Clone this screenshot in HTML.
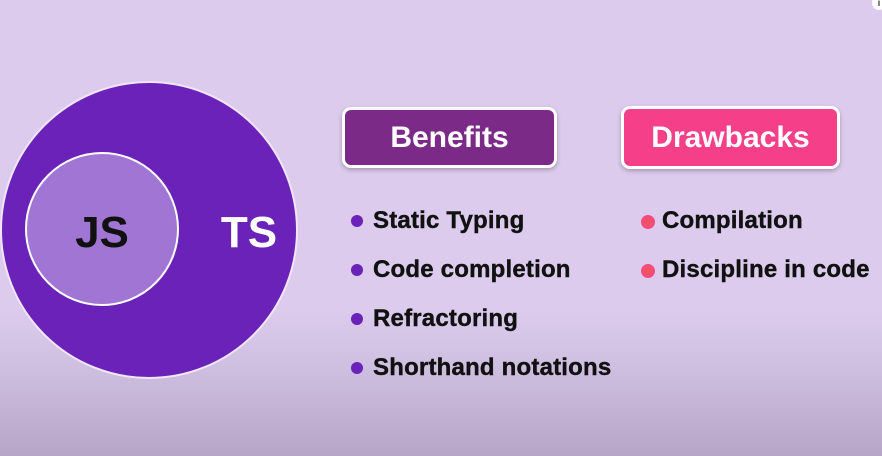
<!DOCTYPE html>
<html><head><meta charset="utf-8"><style>
body{margin:0;width:882px;height:456px;overflow:hidden;font-family:"Liberation Sans",sans-serif;font-weight:bold;
background:linear-gradient(to bottom,#dccbec 0%,#dccbec 68%,#cfbfe0 80%,#b7a5c6 100%);position:relative}
.a{position:absolute}
.box{position:absolute;border:3px solid #fff;border-radius:9px;color:#fff;font-size:30px;display:flex;align-items:center;justify-content:center;box-sizing:border-box;box-shadow:0 2px 4px rgba(0,0,0,.25)}
.it{position:absolute;font-size:24px;letter-spacing:0.2px;color:#111;line-height:28px;white-space:nowrap;-webkit-text-stroke:0.4px #111}
.dot{position:absolute;width:12px;height:12px;border-radius:50%}
</style></head><body>
<svg class="a" style="left:0;top:0" width="320" height="400">
<circle cx="149" cy="230" r="148" fill="#6b22b8" stroke="#f0e6f8" stroke-width="2"/>
<circle cx="102" cy="229" r="76" fill="#a175d4" stroke="#fff" stroke-width="2"/>
<text x="102" y="247" text-anchor="middle" font-family="Liberation Sans" font-weight="bold" font-size="44" fill="#111">JS</text>
<text x="249" y="247" text-anchor="middle" font-family="Liberation Sans" font-weight="bold" font-size="44" fill="#fff">TS</text>
</svg>
<div class="box" style="left:342px;top:107px;width:215px;height:61px;background:#7b2a88">Benefits</div>
<div class="box" style="left:621px;top:106px;width:219px;height:63px;background:#f53f88">Drawbacks</div>
<div class="dot" style="left:351px;top:215px;background:#6b22b8"></div><div class="it" style="left:373px;top:207px">Static Typing</div>
<div class="dot" style="left:351px;top:264px;background:#6b22b8"></div><div class="it" style="left:373px;top:256px">Code completion</div>
<div class="dot" style="left:351px;top:313px;background:#6b22b8"></div><div class="it" style="left:373px;top:305px">Refractoring</div>
<div class="dot" style="left:351px;top:362px;background:#6b22b8"></div><div class="it" style="left:373px;top:354px">Shorthand notations</div>
<div class="dot" style="left:641px;top:215px;background:#f0506a;border:1px solid #f49"></div><div class="it" style="left:662px;top:207px">Compilation</div>
<div class="dot" style="left:641px;top:264px;background:#f0506a;border:1px solid #f49"></div><div class="it" style="left:662px;top:256px">Discipline in code</div>
<div class="a" style="left:872px;top:-4px;width:14px;height:14px;border-radius:50%;background:#fff;color:#555;font-size:10px;text-align:center;line-height:16px">i</div>
</body></html>
